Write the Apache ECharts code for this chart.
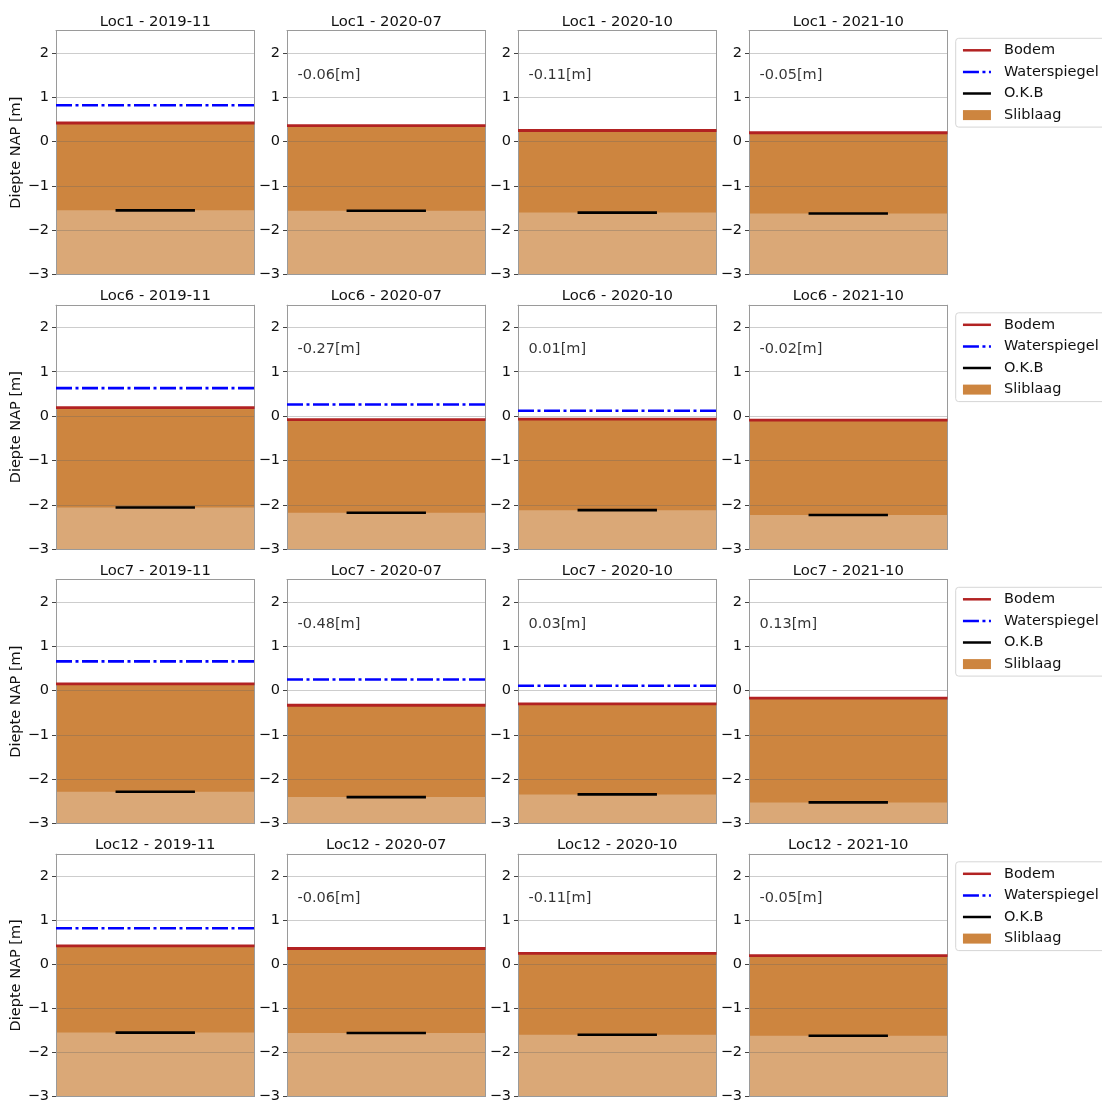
<!DOCTYPE html>
<html>
<head>
<meta charset="utf-8">
<script src="https://cdn.jsdelivr.net/npm/echarts@6/dist/echarts.min.js"></script>
<style>
  html, body { margin: 0; padding: 0; background: #fff; }
  #chart { width: 1102px; height: 1104px; }
</style>
</head>
<body>
<div id="chart"></div>
<script>
// Survey locations (rows) and survey moments (columns)
const locations = ['Loc1', 'Loc6', 'Loc7', 'Loc12'];
const dates = ['2019-11', '2020-07', '2020-10', '2021-10'];

// Bed level (top of the silt layer) in m NAP
const bodemLoc1 = [0.42, 0.36, 0.25, 0.20];
const bodemLoc6 = [0.19, -0.08, -0.07, -0.09];
const bodemLoc7 = [0.15, -0.33, -0.30, -0.17];
const bodemLoc12 = [0.42, 0.36, 0.25, 0.20];

// Water level in m NAP (null = not measured)
const waterLoc1 = [0.82, null, null, null];
const waterLoc6 = [0.63, 0.26, 0.12, null];
const waterLoc7 = [0.66, 0.25, 0.11, null];
const waterLoc12 = [0.82, null, null, null];

// O.K.B (bottom of the silt layer) in m NAP
const okbLoc1 = [-1.55, -1.56, -1.60, -1.62];
const okbLoc6 = [-2.06, -2.18, -2.12, -2.23];
const okbLoc7 = [-2.28, -2.40, -2.34, -2.52];
const okbLoc12 = [-1.55, -1.56, -1.60, -1.62];

// Vertical axis
const yMin = -3;
const yMax = 2.5;
const yTicks = [-3, -2, -1, 0, 1, 2];

const bodemRows = [bodemLoc1, bodemLoc6, bodemLoc7, bodemLoc12];
const waterRows = [waterLoc1, waterLoc6, waterLoc7, waterLoc12];
const okbRows = [okbLoc1, okbLoc6, okbLoc7, okbLoc12];

const FONT = 'DejaVu Sans';
const FS = 14.5;
const TEXT = '#111';
const SPINE = '#9a9a9a';
const C_SLIB = '#CD853F';
const C_ZAND = '#DAA877';
const C_BODEM = '#B22222';
const C_WATER = '#0000FF';

// Panel geometry
const panelLeft0 = 56, panelPitchX = 231, panelW = 198.5;
const panelTop0 = 30.7, panelPitchY = 274.5, panelH = 244;

const grids = [], xAxes = [], yAxes = [], series = [], titles = [], legends = [];

const minus = v => String(v).replace('-', '\u2212');

locations.forEach((loc, r) => {
  dates.forEach((date, c) => {
    const gi = grids.length;
    const left = panelLeft0 + c * panelPitchX;
    const top = panelTop0 + r * panelPitchY;
    grids.push({ left: left, top: top, width: panelW, height: panelH, containLabel: false });

    titles.push({
      text: loc + ' - ' + date,
      left: left + panelW / 2,
      top: top - 17.5,
      textAlign: 'center',
      padding: 0,
      textStyle: { fontFamily: FONT, fontSize: 14.8, fontWeight: 'normal', color: TEXT, lineHeight: 17 }
    });

    // bottom & top x axes (only the frame line is visible)
    xAxes.push({
      gridIndex: gi, type: 'value', min: 0, max: 1, position: 'bottom', z: 2,
      axisLine: { show: true, onZero: false, lineStyle: { color: SPINE, width: 1 } },
      axisTick: { show: false }, axisLabel: { show: false }, splitLine: { show: false }
    });
    xAxes.push({
      gridIndex: gi, type: 'value', min: 0, max: 1, position: 'top', z: 2,
      axisLine: { show: true, onZero: false, lineStyle: { color: SPINE, width: 1 } },
      axisTick: { show: false }, axisLabel: { show: false }, splitLine: { show: false }
    });
    // left (main) & right y axes
    yAxes.push({
      gridIndex: gi, type: 'value', min: yMin, max: yMax, interval: 1, position: 'left', z: 2,
      name: c === 0 ? 'Diepte NAP [m]' : '',
      nameLocation: 'middle', nameGap: 30,
      nameTextStyle: { fontFamily: FONT, fontSize: FS, color: TEXT },
      axisLine: { show: true, onZero: false, lineStyle: { color: SPINE, width: 1 } },
      axisTick: { show: true, length: 4, customValues: yTicks, lineStyle: { color: '#444' } },
      axisLabel: {
        show: true, margin: 7, customValues: yTicks,
        fontFamily: FONT, fontSize: FS, color: TEXT,
        formatter: v => (Number.isInteger(v) ? minus(v) : '')
      },
      splitLine: { show: true, lineStyle: { color: 'rgba(100,100,100,0.32)', width: 1 } }
    });
    yAxes.push({
      gridIndex: gi, type: 'value', min: yMin, max: yMax, position: 'right', z: 2,
      axisLine: { show: true, onZero: false, lineStyle: { color: SPINE, width: 1 } },
      axisTick: { show: false }, axisLabel: { show: false }, splitLine: { show: false }
    });

    const xi = gi * 2, yi = gi * 2;
    const bodem = bodemRows[r][c];
    const water = waterRows[r][c];
    const okb = okbRows[r][c];

    // silt layer: from the bed down (covered below O.K.B by the sand fill)
    series.push({
      name: 'Sliblaag', type: 'line', xAxisIndex: xi, yAxisIndex: yi, z: 1,
      symbol: 'none', silent: true, animation: false,
      data: [[0, bodem], [1, bodem]],
      itemStyle: { color: C_SLIB },
      lineStyle: { width: 0, color: C_SLIB },
      areaStyle: { color: C_SLIB, opacity: 1, origin: 'start' }
    });
    // sand below the O.K.B
    series.push({
      name: 'Zand', type: 'line', xAxisIndex: xi, yAxisIndex: yi, z: 1,
      symbol: 'none', silent: true, animation: false,
      data: [[0, okb], [1, okb]],
      itemStyle: { color: C_ZAND },
      lineStyle: { width: 0, color: C_ZAND },
      areaStyle: { color: C_ZAND, opacity: 1, origin: 'start' }
    });
    // bed line
    series.push({
      name: 'Bodem', type: 'line', xAxisIndex: xi, yAxisIndex: yi, z: 3,
      symbol: 'none', silent: true, animation: false,
      data: [[0, bodem], [1, bodem]],
      itemStyle: { color: C_BODEM },
      lineStyle: { width: 2.8, color: C_BODEM }
    });
    // water level
    series.push({
      name: 'Waterspiegel', type: 'line', xAxisIndex: xi, yAxisIndex: yi, z: 3,
      symbol: 'none', silent: true, animation: false,
      data: water === null ? [] : [[0, water], [1, water]],
      itemStyle: { color: C_WATER },
      lineStyle: { width: 2.6, color: C_WATER, type: [16, 3.5, 3, 3.5], cap: 'butt' }
    });
    // O.K.B marker
    series.push({
      name: 'O.K.B', type: 'line', xAxisIndex: xi, yAxisIndex: yi, z: 3,
      symbol: 'none', silent: true, animation: false,
      data: [[0.3, okb], [0.7, okb]],
      itemStyle: { color: '#000' },
      lineStyle: { width: 2.6, color: '#000' }
    });
    // change of bed level since the previous survey
    if (c > 0) {
      const diff = bodem - bodemRows[r][c - 1];
      series.push({
        name: 'verschil', type: 'scatter', xAxisIndex: xi, yAxisIndex: yi, z: 3,
        silent: true, animation: false,
        symbolSize: 1,
        itemStyle: { color: 'rgba(0,0,0,0)' },
        data: [[0.05, 1.5]],
        label: {
          show: true, position: 'right', distance: 0,
          formatter: () => diff.toFixed(2) + '[m]',
          fontFamily: FONT, fontSize: FS, color: '#000'
        }
      });
    }
  });

  const hideMarker = { opacity: 0 };
  legends.push({
    orient: 'vertical',
    left: 955.7,
    top: 38.3 + r * panelPitchY,
    data: [
      { name: 'Bodem', itemStyle: hideMarker, lineStyle: { width: 2.5 } },
      { name: 'Waterspiegel', itemStyle: hideMarker, lineStyle: { width: 2.5 } },
      { name: 'O.K.B', itemStyle: hideMarker, lineStyle: { width: 2.5 } },
      { name: 'Sliblaag', icon: 'rect' }
    ],
    itemWidth: 28, itemHeight: 10, itemGap: 5.6,
    padding: [4, 8, 4, 6],
    borderColor: '#d6d6d6', borderWidth: 1, borderRadius: 3,
    backgroundColor: '#fff',
    selectedMode: false,
    textStyle: { fontFamily: FONT, fontSize: FS, color: TEXT, lineHeight: 16, padding: [0, 0, 0, 8] }
  });
});

const chart = echarts.init(document.getElementById('chart'), null, { renderer: 'canvas' });
chart.setOption({
  animation: false,
  backgroundColor: '#fff',
  title: titles,
  legend: legends,
  grid: grids,
  xAxis: xAxes,
  yAxis: yAxes,
  series: series
});
</script>
</body>
</html>
